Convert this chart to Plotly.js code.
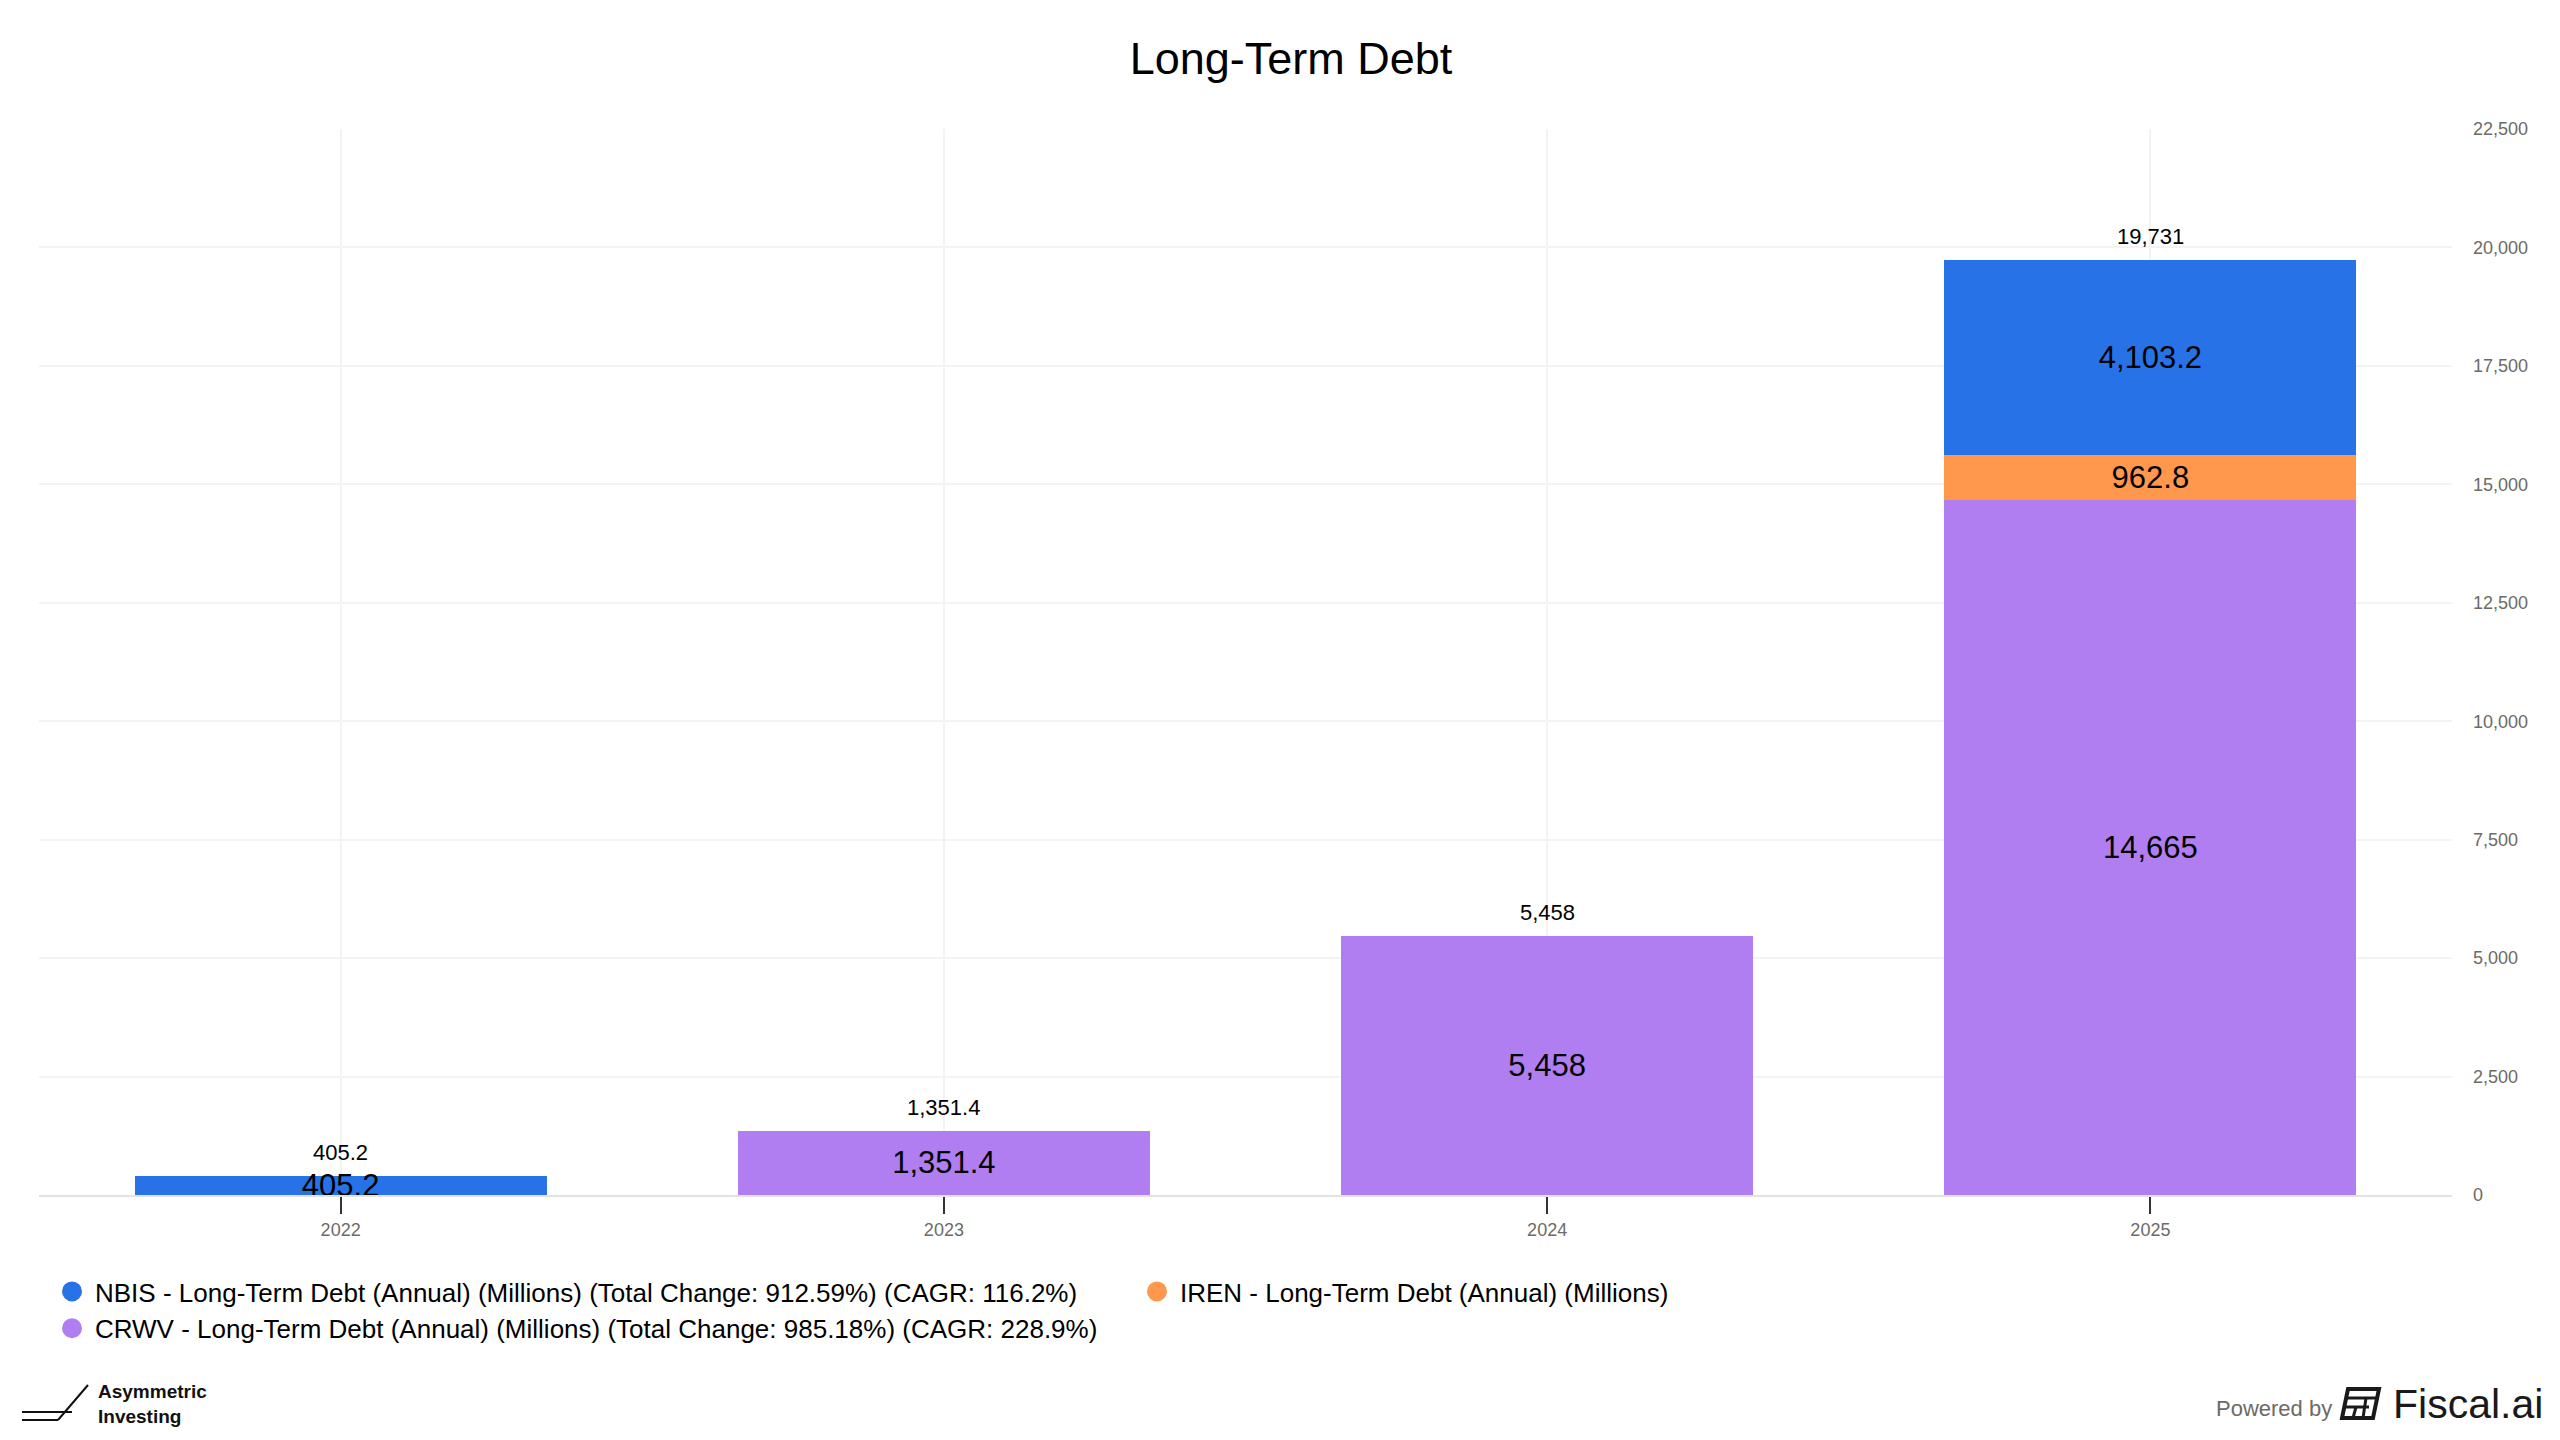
<!DOCTYPE html>
<html>
<head>
<meta charset="utf-8">
<script src="https://cdn.plot.ly/plotly-3.0.1.min.js"></script>
<style>
html,body{margin:0;padding:0;background:#fff;}
#chart{width:2560px;height:1440px;}
</style>
</head>
<body>
<div id="chart"></div>
<script>
// ---- data ----
const years = ['2022', '2023', '2024', '2025'];
const nbisDebt = [405.2, null, null, 4103.2];
const irenDebt = [null, null, null, 962.8];
const crwvDebt = [null, 1351.4, 5458, 14665];
const seriesNames = [
  'NBIS - Long-Term Debt (Annual) (Millions) (Total Change: 912.59%) (CAGR: 116.2%)',
  'IREN - Long-Term Debt (Annual) (Millions)',
  'CRWV - Long-Term Debt (Annual) (Millions) (Total Change: 985.18%) (CAGR: 228.9%)'
];
const chartTitle = 'Long-Term Debt';
const yTickValues = [0, 2500, 5000, 7500, 10000, 12500, 15000, 17500, 20000, 22500];

// ---- styles ----
const colNBIS = '#2872E8';
const colIREN = '#FF974D';
const colCRWV = '#B07EF1';
const FONT = '"Liberation Sans", Arial, Helvetica, sans-serif';

const fmt = v => (v === null || v === undefined) ? '' :
  v.toLocaleString('en-US', {maximumFractionDigits: 1});

const totals = years.map((_, i) => [nbisDebt[i], irenDebt[i], crwvDebt[i]]
  .reduce((a, b) => a + (b || 0), 0));

function barTrace(name, vals, color) {
  return {
    type: 'bar', x: years, y: vals, name: name,
    marker: {color: color, line: {width: 0}},
    text: vals.map(fmt),
    textposition: 'inside', insidetextanchor: 'middle', constraintext: 'none',
    textfont: {family: FONT, size: 31, color: '#000'},
    insidetextfont: {family: FONT, size: 31, color: '#000'},
    showlegend: false, hoverinfo: 'x+y+name'
  };
}
function legendTrace(name, color, rank) {
  return {
    type: 'scatter', mode: 'markers', x: [null], y: [null], name: name,
    marker: {color: color, size: 16, symbol: 'circle', line: {color: color, width: 4}},
    showlegend: true, legendrank: rank, hoverinfo: 'skip'
  };
}

const data = [
  barTrace(seriesNames[2], crwvDebt, colCRWV),
  barTrace(seriesNames[1], irenDebt, colIREN),
  barTrace(seriesNames[0], nbisDebt, colNBIS),
  legendTrace(seriesNames[0], colNBIS, 1),
  legendTrace(seriesNames[1], colIREN, 2),
  legendTrace(seriesNames[2], colCRWV, 3)
];

// plot-area geometry (px)
const L = 39, R = 2452, T = 129, B = 1195;
const W = 2560, H = 1440;
const px = x => (x - L) / (R - L);
const py = y => (B - y) / (B - T);

// total labels above each stacked bar (category index on the x axis)
const totalAnnotations = years.map((yr, i) => ({
  xref: 'x', yref: 'y', x: i, y: totals[i], xanchor: 'center', yanchor: 'bottom',
  yshift: 9, text: fmt(totals[i]), showarrow: false,
  font: {family: FONT, size: 22, color: '#000'}
}));

const layout = {
  width: W, height: H,
  paper_bgcolor: '#fff', plot_bgcolor: '#fff',
  margin: {l: L, r: W - R, t: T, b: H - B, pad: 0},
  font: {family: FONT, color: '#000'},
  title: {
    text: chartTitle, font: {family: FONT, size: 45, color: '#000'},
    x: 1291 / W, xanchor: 'center', xref: 'container', y: 1 - 58 / H, yanchor: 'middle', yref: 'container'
  },
  barmode: 'stack',
  bargap: 0.317,
  showlegend: true,
  legend: {
    orientation: 'h', xref: 'container', yref: 'container',
    x: 49 / W, xanchor: 'left', y: 1 - 1268 / H, yanchor: 'top',
    font: {family: FONT, size: 26, color: '#000'},
    traceorder: 'normal',
    entrywidth: 1034, entrywidthmode: 'pixels',
    itemwidth: 36, tracegroupgap: 0, bgcolor: 'rgba(0,0,0,0)'
  },
  xaxis: {
    type: 'category', categoryorder: 'array', categoryarray: years,
    range: [-0.5, 3.5], fixedrange: true,
    showgrid: true, gridcolor: '#f3f3f3', gridwidth: 2,
    showline: true, linecolor: '#e2e2e2', linewidth: 2,
    ticks: 'outside', ticklen: 17, tickwidth: 2, tickcolor: '#333',
    tickfont: {family: FONT, size: 18, color: '#6e6a66'},
    zeroline: false
  },
  yaxis: {
    side: 'right', range: [0, 22500], tickvals: yTickValues,
    tickformat: ',d', fixedrange: true,
    showgrid: true, gridcolor: '#f3f3f3', gridwidth: 2,
    zeroline: false, showline: false, ticks: '',
    ticklabelstandoff: 20,
    tickfont: {family: FONT, size: 18, color: '#6e6a66'}
  },
  shapes: [
    // Asymmetric Investing logo lines
    {type: 'line', xref: 'paper', yref: 'paper', x0: px(22), x1: px(72), y0: py(1412), y1: py(1412), line: {color: '#111', width: 2}},
    {type: 'line', xref: 'paper', yref: 'paper', x0: px(22), x1: px(58), y0: py(1420), y1: py(1420), line: {color: '#111', width: 2}},
    {type: 'line', xref: 'paper', yref: 'paper', x0: px(58), x1: px(88), y0: py(1420), y1: py(1385), line: {color: '#111', width: 2}},
    // Fiscal.ai icon
    {type: 'path', xref: 'paper', yref: 'paper',
     path: `M ${px(2348)},${py(1389)} L ${px(2379)},${py(1389)} L ${px(2373)},${py(1418)} L ${px(2342)},${py(1418)} Z`,
     line: {color: '#1a1a1a', width: 4}, fillcolor: 'rgba(0,0,0,0)'},
    {type: 'line', xref: 'paper', yref: 'paper', x0: px(2346), x1: px(2377), y0: py(1398), y1: py(1398), line: {color: '#1a1a1a', width: 3}},
    {type: 'line', xref: 'paper', yref: 'paper', x0: px(2345), x1: px(2369), y0: py(1407), y1: py(1407), line: {color: '#1a1a1a', width: 3}},
    {type: 'line', xref: 'paper', yref: 'paper', x0: px(2356), x1: px(2353), y0: py(1407), y1: py(1418), line: {color: '#1a1a1a', width: 3}},
    {type: 'line', xref: 'paper', yref: 'paper', x0: px(2366), x1: px(2363), y0: py(1398), y1: py(1418), line: {color: '#1a1a1a', width: 3}}
  ],
  annotations: totalAnnotations.concat([
    {xref: 'paper', yref: 'paper', x: px(96), y: py(1404), xanchor: 'left', yanchor: 'middle',
     text: '<b>Asymmetric<br>Investing</b>', align: 'left', showarrow: false,
     font: {family: FONT, size: 19, color: '#111'}},
    {xref: 'paper', yref: 'paper', x: px(2334), y: py(1408), xanchor: 'right', yanchor: 'middle',
     text: 'Powered by', showarrow: false,
     font: {family: FONT, size: 22, color: '#6e6a66'}},
    {xref: 'paper', yref: 'paper', x: px(2391), y: py(1404), xanchor: 'left', yanchor: 'middle',
     text: 'Fiscal.ai', showarrow: false,
     font: {family: FONT, size: 41, color: '#1a1a1a'}}
  ])
};

Plotly.newPlot('chart', data, layout, {displayModeBar: false, staticPlot: true});
</script>
</body>
</html>
